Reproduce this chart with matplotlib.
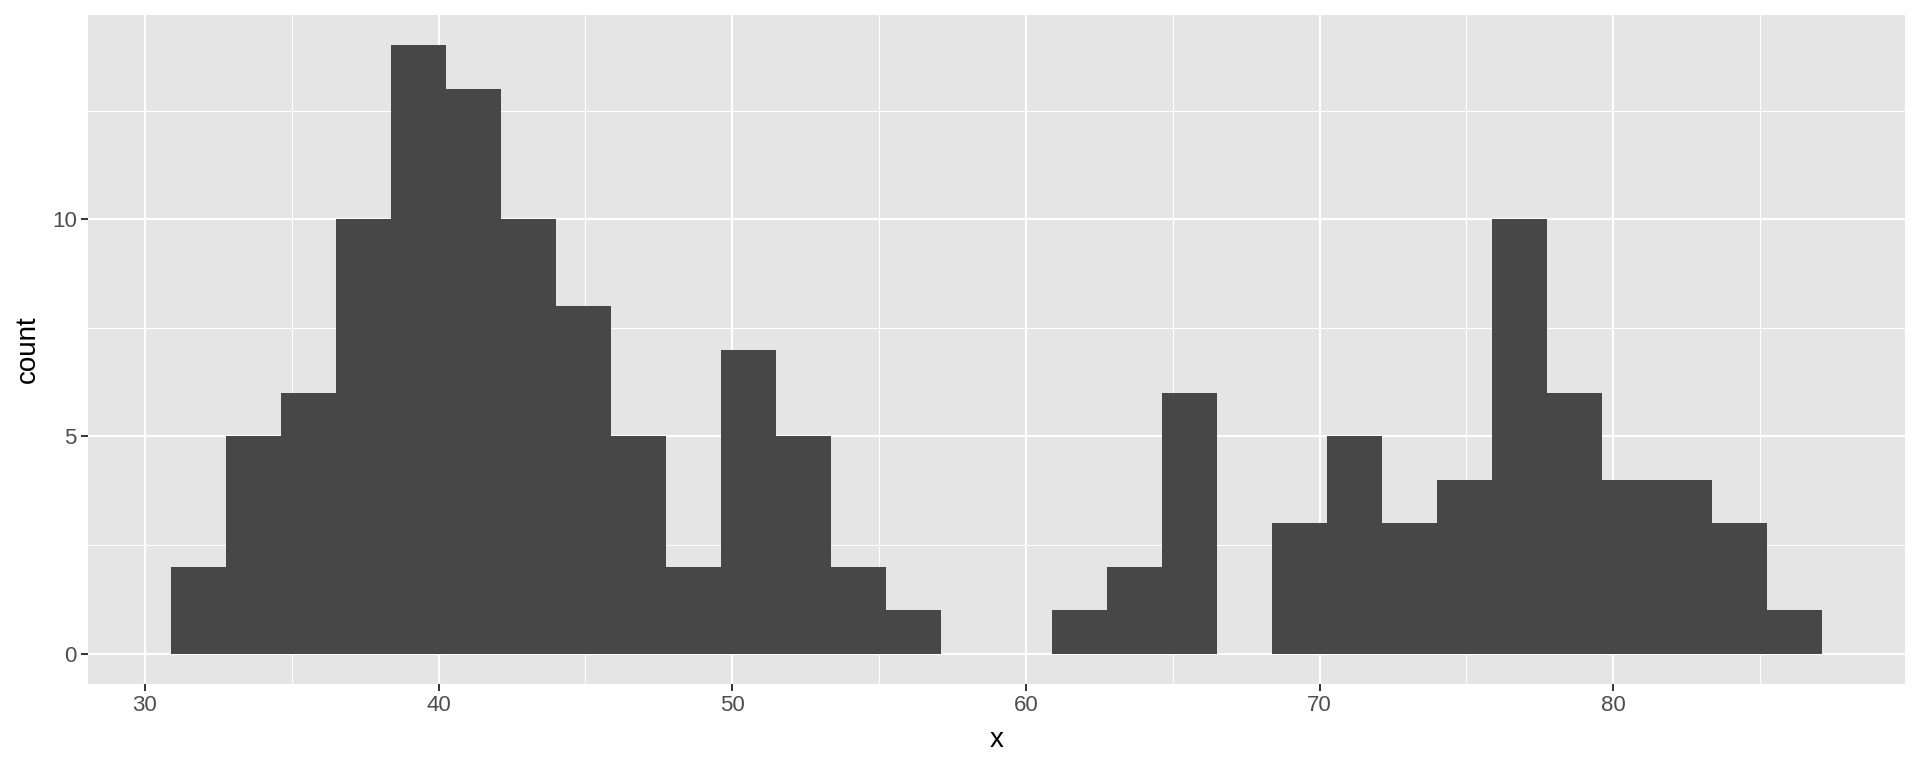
import matplotlib
matplotlib.use("Agg")
import matplotlib.pyplot as plt
from matplotlib.ticker import MultipleLocator

# histogram counts (30 bins, ggplot default)
counts = [2, 5, 6, 10, 14, 13, 10, 8, 5, 2, 7, 5, 2, 1, 0,
          0, 1, 2, 6, 0, 3, 5, 3, 4, 10, 6, 4, 4, 3, 1]
bin_start = 30.875
bin_width = 1.875
x_ticks = [30, 40, 50, 60, 70, 80]
y_ticks = [0, 5, 10]

plt.rcParams['font.family'] = ['Liberation Sans', 'DejaVu Sans']

edges = [bin_start + i * bin_width for i in range(len(counts))]

fig = plt.figure(figsize=(19.2, 7.68), dpi=100)
ax = fig.add_axes([88 / 1920, 1 - 684 / 768, (1905 - 88) / 1920, (684 - 15) / 768])
ax.set_facecolor('#e5e5e5')

ax.bar(edges, counts, width=bin_width, align='edge', color='#474747',
       edgecolor='none', zorder=3)

x_lo = bin_start
x_hi = bin_start + len(counts) * bin_width
pad = (x_hi - x_lo) * 0.05
ax.set_xlim(x_lo - pad, x_hi + pad)
ax.set_ylim(-0.05 * max(counts), max(counts) * 1.05)

ax.set_xticks(x_ticks)
ax.set_yticks(y_ticks)
ax.xaxis.set_minor_locator(MultipleLocator(5))
ax.yaxis.set_minor_locator(MultipleLocator(2.5))

ax.grid(which='major', color='white', linewidth=1.5, zorder=0)
ax.grid(which='minor', color='white', linewidth=0.75, zorder=0)
ax.set_axisbelow(True)

for s in ax.spines.values():
    s.set_visible(False)

ax.tick_params(which='major', length=5, width=1.4, color='#333333',
               labelsize=16, labelcolor='#4d4d4d', pad=3)
ax.tick_params(which='minor', length=0)

ax.set_xlabel('x', fontsize=20, color='black', labelpad=8)
ax.set_ylabel('count', fontsize=20, color='black', labelpad=8)

fig.savefig('out.png', dpi=100, facecolor='white')
